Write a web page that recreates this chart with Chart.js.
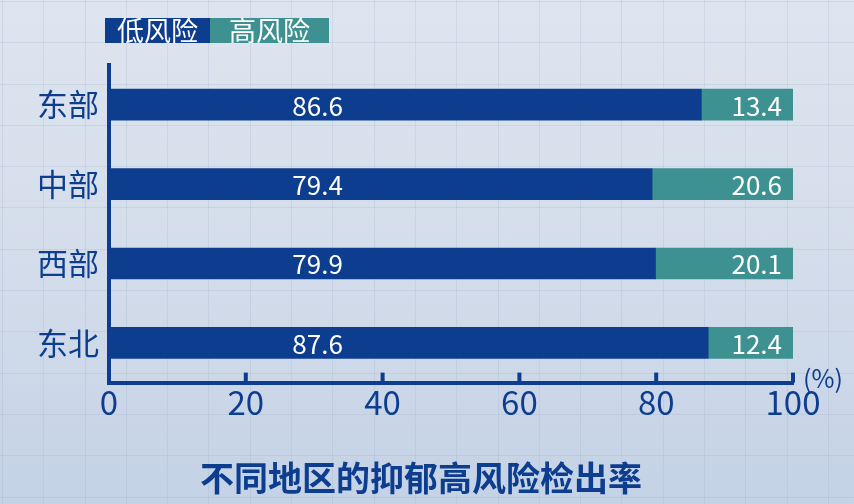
<!DOCTYPE html>
<html lang="zh">
<head>
<meta charset="utf-8">
<script src="https://cdn.jsdelivr.net/npm/chart.js@4"></script>
<style>
  html, body { margin: 0; padding: 0; }
  body {
    width: 854px; height: 504px; overflow: hidden;
    background:
      repeating-linear-gradient(90deg, rgba(150,170,200,0.22) 0 1px, transparent 1px 41.3px),
      repeating-linear-gradient(180deg, rgba(150,170,200,0.22) 0 1px, transparent 1px 41.3px),
      linear-gradient(180deg, #dee5f0 0%, #d3dcea 55%, #c4d2e6 100%);
    background-position: 2px 1px, 2px 1px, 0 0;
  }
  #wrap { position: relative; width: 854px; height: 504px; }
</style>
</head>
<body>
<div id="wrap"><canvas id="grafico"></canvas></div>
<script>
// dados
const regioes = ['东部', '中部', '西部', '东北'];
const baixoRisco = [86.6, 79.4, 79.9, 87.6];
const altoRisco = [13.4, 20.6, 20.1, 12.4];
const nomesSeries = ['低风险', '高风险'];
const ticksX = [0, 20, 40, 60, 80, 100];

const AZUL = '#0d3d8f';
const VERDE = '#3d9191';
const FONTE = '"Noto Sans CJK SC", "Noto Sans", sans-serif';

// legenda com o texto dentro da caixa colorida
const legendaCaixas = {
    id: 'legendaCaixas',
    afterDraw(chart) {
        const ctx = chart.ctx;
        ctx.save();
        ctx.font = '27px ' + FONTE;
        ctx.textBaseline = 'middle';
        ctx.textAlign = 'left';
        let x = 105;
        chart.data.datasets.forEach((ds, i) => {
            const pad = i === 0 ? 12 : 19;
            const w = ctx.measureText(ds.label).width + pad * 2;
            ctx.fillStyle = ds.backgroundColor;
            ctx.fillRect(x, 18, w, 25);
            ctx.fillStyle = '#ffffff';
            ctx.fillText(ds.label, x + pad, 31);
            x += w;
        });
        ctx.restore();
    }
};

// marcas do eixo x para dentro + "(%)"
const marcasEixo = {
    id: 'marcasEixo',
    afterDraw(chart) {
        const ctx = chart.ctx;
        const sx = chart.scales.x;
        const fundo = chart.chartArea.bottom;
        ctx.save();
        ctx.fillStyle = AZUL;
        ticksX.forEach(v => {
            if (v === 0) return;
            const px = sx.getPixelForValue(v);
            ctx.fillRect(px - 2, fundo - 10, 4, 10);
        });
        ctx.font = '25px ' + FONTE;
        ctx.textBaseline = 'middle';
        ctx.textAlign = 'left';
        ctx.fillText('(%)', chart.chartArea.right + 10, fundo - 4);
        ctx.restore();
    }
};

// rótulos dos valores nas barras
const rotulosValores = {
    id: 'rotulosValores',
    afterDatasetsDraw(chart) {
        const ctx = chart.ctx;
        const sx = chart.scales.x;
        ctx.save();
        ctx.font = '26px ' + FONTE;
        ctx.fillStyle = '#ffffff';
        ctx.textBaseline = 'middle';
        chart.getDatasetMeta(0).data.forEach((bar, i) => {
            ctx.textAlign = 'center';
            ctx.fillText(baixoRisco[i].toFixed(1), sx.getPixelForValue(30.5), bar.y + 1);
        });
        chart.getDatasetMeta(1).data.forEach((bar, i) => {
            ctx.textAlign = 'right';
            ctx.fillText(altoRisco[i].toFixed(1), bar.x - 11, bar.y + 1);
        });
        ctx.restore();
    }
};

new Chart(document.getElementById('grafico'), {
    type: 'bar',
    data: {
        labels: regioes,
        datasets: [
            { label: nomesSeries[0], data: baixoRisco, backgroundColor: AZUL, barThickness: 31 },
            { label: nomesSeries[1], data: altoRisco, backgroundColor: VERDE, barThickness: 31 }
        ]
    },
    options: {
        indexAxis: 'y',
        responsive: true,
        maintainAspectRatio: false,
        animation: false,
        layout: { padding: { top: 65, right: 12, bottom: 4, left: 0 } },
        plugins: {
            legend: { display: false },
            tooltip: { enabled: false },
            title: {
                display: true,
                position: 'bottom',
                text: '不同地区的抑郁高风险检出率',
                color: AZUL,
                font: { family: FONTE, size: 34, weight: 'bold' },
                padding: { top: 35, bottom: 2 }
            }
        },
        scales: {
            x: {
                stacked: true,
                min: 0, max: 100,
                afterBuildTicks: s => { s.ticks = ticksX.map(v => ({ value: v })); },
                ticks: { color: AZUL, font: { family: FONTE, size: 33 }, padding: 0 },
                grid: { display: false, drawTicks: false },
                border: { color: AZUL, width: 4 }
            },
            y: {
                stacked: true,
                afterFit: s => { s.width = 109; },
                ticks: { color: AZUL, font: { family: FONTE, size: 31 }, padding: 10 },
                grid: { display: false, drawTicks: false },
                border: { color: AZUL, width: 4 }
            },
            // eixo vazio só para reservar o espaço do "(%)" à direita
            yDireita: {
                type: 'category',
                position: 'right',
                afterFit: s => { s.width = 49; },
                ticks: { display: false },
                grid: { display: false, drawTicks: false },
                border: { display: false }
            }
        }
    },
    plugins: [legendaCaixas, marcasEixo, rotulosValores]
});
</script>
</body>
</html>
